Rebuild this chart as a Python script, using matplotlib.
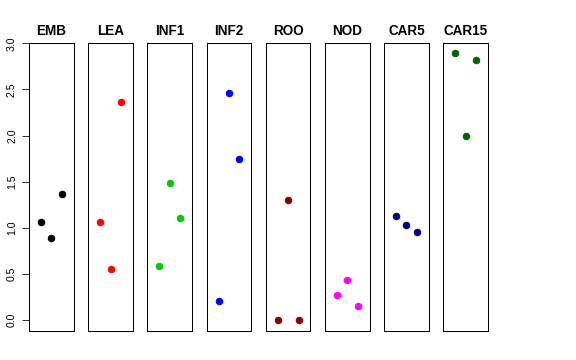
import matplotlib
matplotlib.use("Agg")
import matplotlib.pyplot as plt

plt.rcParams['font.family'] = ['Liberation Sans', 'DejaVu Sans']

# tissues and the three values per tissue (x = 1, 2, 3)
tissues = ["EMB", "LEA", "INF1", "INF2", "ROO", "NOD", "CAR5", "CAR15"]
values = [
    [1.06, 0.89, 1.37],
    [1.06, 0.55, 2.36],
    [0.58, 1.49, 1.11],
    [0.21, 2.46, 1.75],
    [0.00, 1.30, 0.00],
    [0.27, 0.43, 0.15],
    [1.13, 1.03, 0.95],
    [2.89, 1.99, 2.82],
]
colors = ["black", "red", "#00CD00", "blue", "#8B0000", "magenta", "#000080", "#006400"]
yticks = [0.0, 0.5, 1.0, 1.5, 2.0, 2.5, 3.0]

W, H = 576, 360
fig = plt.figure(figsize=(W / 72, H / 72), dpi=72)

left0 = 29.0
step = 59.19
pw = 44.7
top, bottom = 43.3, 331.0

for i, (name, vals, col) in enumerate(zip(tissues, values, colors)):
    x0 = left0 + i * step
    ax = fig.add_axes([x0 / W, 1 - bottom / H, pw / W, (bottom - top) / H])
    ax.plot([1, 2, 3], vals, 'o', color=col, ms=6.5, mec=col)
    ax.set_xlim(-0.15, 4.15)
    ax.set_ylim(-0.12, 3.0)
    ax.set_xticks([])
    ax.set_title(name, fontsize=13.5, fontweight='bold', pad=8)
    for s in ax.spines.values():
        s.set_linewidth(1.0)
        s.set_color('black')
    if i == 0:
        ax.set_yticks(yticks)
        ax.set_yticklabels(["%.1f" % v for v in yticks], rotation=90, va='center', fontsize=10.5)
        ax.tick_params(axis='y', length=7, width=0.8, pad=5)
    else:
        ax.set_yticks([])

fig.savefig("out.png", dpi=72)
